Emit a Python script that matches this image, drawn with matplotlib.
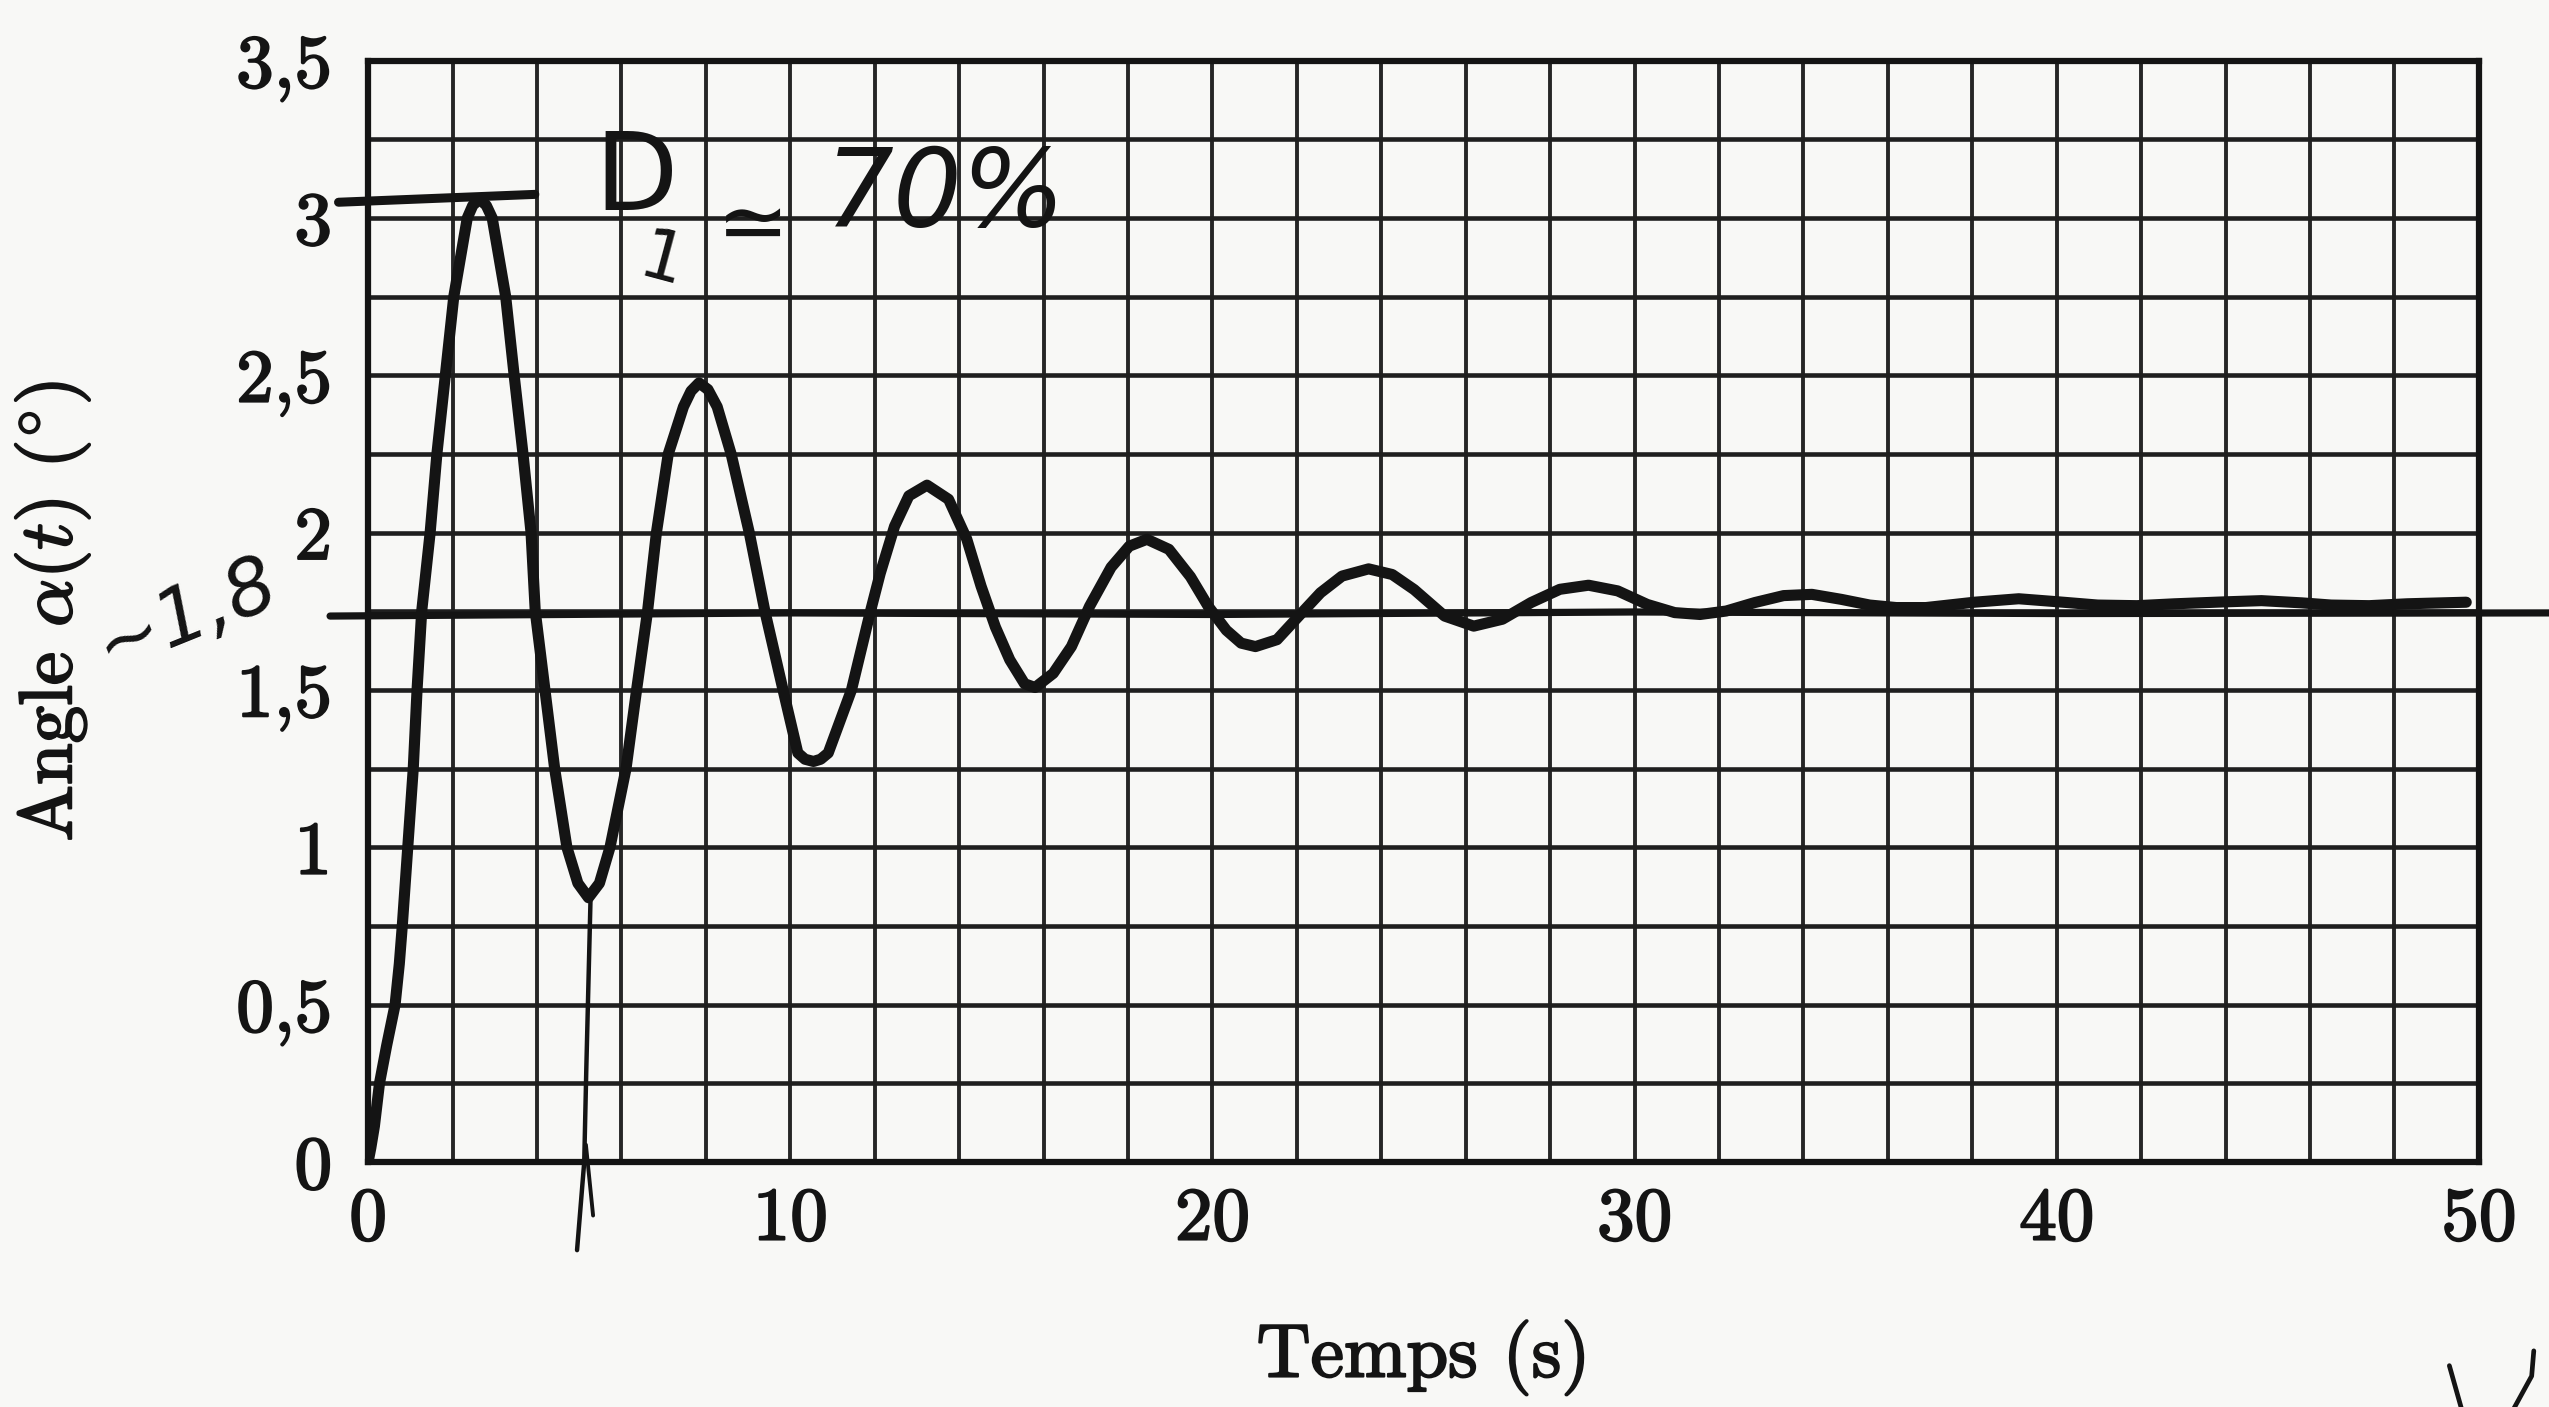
import matplotlib
matplotlib.use("Agg")
import matplotlib.pyplot as plt
import matplotlib.patheffects as pe
from matplotlib.ticker import MultipleLocator

# ---------------- data ----------------
time_s = [0, 0.065, 0.15, 0.27, 0.44, 0.64, 0.74, 0.81, 0.94, 1.07, 1.16, 1.27,
          1.47, 1.63, 1.83, 2.03, 2.35, 2.48, 2.64, 2.80, 2.94,
          3.26, 3.46, 3.67, 3.86, 3.96, 4.19, 4.42, 4.71, 4.97, 5.22,
          5.48, 5.73, 6.11, 6.36, 6.62, 6.83, 7.11, 7.47, 7.65, 7.84,
          8.05, 8.27, 8.6, 9.03, 9.4, 9.83, 10.18, 10.35, 10.55,
          10.72, 10.9, 11.45, 11.9, 12.13, 12.47, 12.81, 13.24,
          13.75, 14.18, 14.52, 14.86, 15.2, 15.55, 15.8,
          16.23, 16.66, 17.09, 17.6, 18.03, 18.45,
          18.97, 19.48, 19.9, 20.33, 20.68, 21.02,
          21.53, 22.04, 22.56, 23.07, 23.7,
          24.26, 24.78, 25.5, 26.19,
          26.87, 27.55, 28.23, 28.91,
          29.6, 30.3, 30.95, 31.55,
          32.17, 32.85, 33.53, 34.2,
          34.9, 35.57, 36.2, 36.9, 38.05, 39.1, 40.06, 40.97, 41.9, 42.8,
          43.95, 44.85, 45.8, 46.5, 47.4, 48.3, 49.7]
angle_deg = [0, 0.045, 0.114, 0.25, 0.37, 0.5, 0.63, 0.75, 1.0, 1.25, 1.5, 1.75,
             2.0, 2.25, 2.5, 2.75, 3.0, 3.04, 3.06, 3.04, 3.0,
             2.75, 2.5, 2.25, 2.0, 1.75, 1.5, 1.25, 1.0, 0.886, 0.84,
             0.886, 1.0, 1.25, 1.5, 1.75, 2.0, 2.25, 2.4, 2.45, 2.476,
             2.455, 2.4, 2.25, 2.0, 1.75, 1.5, 1.30, 1.28, 1.273,
             1.28, 1.30, 1.5, 1.75, 1.87, 2.02, 2.117, 2.151,
             2.106, 1.98, 1.83, 1.70, 1.596, 1.52, 1.508,
             1.553, 1.638, 1.766, 1.89, 1.957, 1.979,
             1.947, 1.86, 1.766, 1.69, 1.649, 1.638,
             1.66, 1.734, 1.809, 1.862, 1.885,
             1.867, 1.819, 1.735, 1.703,
             1.725, 1.778, 1.82, 1.833,
             1.815, 1.772, 1.746, 1.74,
             1.751, 1.778, 1.80, 1.804,
             1.788, 1.77, 1.762, 1.762, 1.779, 1.79, 1.78, 1.77, 1.768, 1.774,
             1.78, 1.784, 1.777, 1.77, 1.768, 1.774, 1.779]

x_ticks = [0, 10, 20, 30, 40, 50]
x_tick_labels = ["0", "10", "20", "30", "40", "50"]
y_ticks = [0, 0.5, 1, 1.5, 2, 2.5, 3, 3.5]
y_tick_labels = ["0", "0,5", "1", "1,5", "2", "2,5", "3", "3,5"]

x_label = "Temps (s)"
y_label = r"Angle $\alpha(t)$ ($^{\circ}$)"

# handwritten annotations
peak_line_t = [-0.7, 3.95]
peak_line_v = [3.05, 3.075]
final_line_t = [-0.9, 10, 20, 30, 40, 51.7]
final_line_v = [1.735, 1.745, 1.74, 1.748, 1.743, 1.745]
period_mark_t = [5.27, 5.17, 5.12, 4.95]
period_mark_v = [0.84, 0.30, 0.0, -0.28]
period_mark2_t = [5.16, 5.33]
period_mark2_v = [0.055, -0.17]
check1_t = [49.3, 49.6]
check1_v = [-0.647, -0.79]
check2_t = [51.3, 51.25, 50.8]
check2_v = [-0.60, -0.68, -0.79]

# ---------------- figure ----------------
plt.rcParams["font.family"] = ["cmr10", "DejaVu Serif"]
plt.rcParams["mathtext.fontset"] = "cm"
plt.rcParams["axes.unicode_minus"] = False

BG = "#f8f8f6"
INK = "#141414"
fig = plt.figure(figsize=(25.49, 14.07), dpi=100, facecolor=BG)
ax = fig.add_axes([0.1444, 0.1741, 0.8281, 0.7828])
ax.set_facecolor(BG)

ax.set_xlim(0, 50)
ax.set_ylim(0, 3.5)
ax.xaxis.set_minor_locator(MultipleLocator(2))
ax.yaxis.set_minor_locator(MultipleLocator(0.25))
ax.set_xticks(x_ticks, x_tick_labels)
ax.set_yticks(y_ticks, y_tick_labels)
ax.grid(True, which="both", axis="x", color="#262626", linewidth=2.8)
ax.grid(True, which="both", axis="y", color="#1f1f1f", linewidth=3.3)
ax.set_axisbelow(True)
ax.tick_params(which="both", length=0)
ax.tick_params(axis="x", pad=18, labelsize=54, colors=INK)
ax.tick_params(axis="y", pad=26, labelsize=54, colors=INK)
for sp in ax.spines.values():
    sp.set_linewidth(4.5)
    sp.set_color(INK)

bold = [pe.withStroke(linewidth=1.5, foreground=INK)]
for lab in ax.get_xticklabels() + ax.get_yticklabels():
    lab.set_path_effects(bold)

ax.set_xlabel(x_label, fontsize=54, color=INK, path_effects=bold)
ax.set_ylabel(y_label, fontsize=54, color=INK, path_effects=bold)
ax.xaxis.set_label_coords(0.5, -0.143)
ax.yaxis.set_label_coords(-0.1307, 0.5)

# response curve
ax.plot(time_s, angle_deg, color=INK, linewidth=8, solid_joinstyle="round",
        solid_capstyle="round", zorder=5)

# ---------------- handwritten annotations ----------------
pen = dict(color=INK, solid_capstyle="round", solid_joinstyle="round",
           clip_on=False, zorder=6)
ax.plot(peak_line_t, peak_line_v, linewidth=6.5, **pen)
ax.plot(final_line_t, final_line_v, linewidth=5.2, **pen)
ax.plot(period_mark_t, period_mark_v, linewidth=3.2, **pen)
ax.plot(period_mark2_t, period_mark2_v, linewidth=2.8, **pen)
ax.plot(check1_t, check1_v, linewidth=3.4, **pen)
ax.plot(check2_t, check2_v, linewidth=3.4, **pen)

hand = ["DejaVu Sans"]
ax.text(6.35, 3.12, "D", fontsize=78, family=hand, color=INK, ha="center",
        va="center", clip_on=False, zorder=7)
ax.text(6.95, 2.86, "1", fontsize=50, family=hand, color=INK,
        ha="center", va="center", rotation=-15, clip_on=False, zorder=7)
ax.text(9.12, 2.97, "\u2243", fontsize=62, family=hand, color=INK,
        ha="center", va="center", clip_on=False, zorder=7)
ax.text(13.68, 3.07, "70%", fontsize=78, family=hand, style="italic",
        color=INK, ha="center", va="center", clip_on=False, zorder=7)
ax.text(-4.3, 1.74, "~1,8", fontsize=56, family=hand, style="italic",
        color=INK, ha="center", va="center", rotation=22, clip_on=False,
        zorder=7)

fig.savefig("out.png", dpi=100, facecolor=BG)
